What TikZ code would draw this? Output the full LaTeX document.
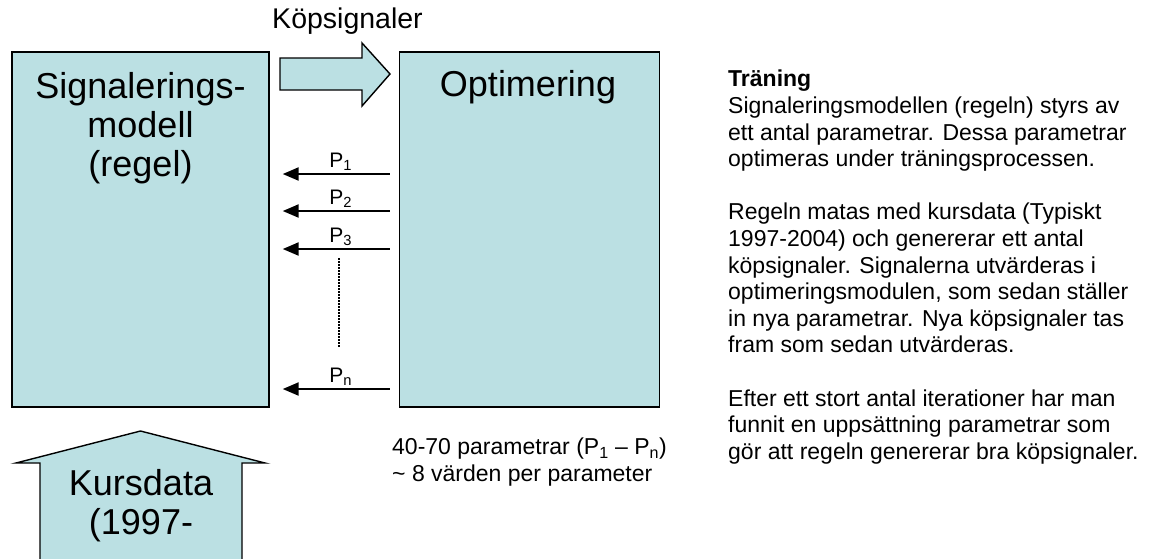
\documentclass[tikz,border=0pt]{standalone}
\usepackage{fontspec}
\setmainfont{Liberation Sans}
\usetikzlibrary{arrows.meta, positioning}
\definecolor{boxfill}{RGB}{187,224,227}

\begin{document}
\begin{tikzpicture}[x=1pt, y=-1pt,
        box/.style={draw, rectangle, fill=boxfill, line width=1.4pt, minimum height=355pt, inner sep=0pt},
        big/.style={font=\fontsize{36}{39}\selectfont, align=center, inner sep=0pt},
        note/.style={font=\fontsize{23}{26.6}\selectfont, align=left, inner sep=0pt},
        plabel/.style={font=\fontsize{21}{24}\selectfont, inner sep=2pt},
        blockarrow/.style={draw, fill=boxfill, line width=1.4pt, line join=miter},
        parrow/.style={-{Triangle[length=16pt, width=13pt]}, line width=2.2pt, shorten >=13pt, shorten <=9pt}
    ]
        \useasboundingbox (0,0) rectangle (1161,558);

        \node[box, minimum width=257pt] (signal) at (140.5,229.5) {};
        \node[box, minimum width=260pt, right=129pt of signal] (opt) {};
        \node[big, anchor=north] (signaltxt) at (140.5,72) {Signalerings-\\modell\\(regel)};
        \node[big, anchor=base] (opttxt) at (528,96) {Optimering};

        % signals to the optimiser
        \draw[blockarrow] (280,58) -- (362,58) -- (362,43) -- (390,74) -- (362,106) -- (362,90) -- (280,90) -- cycle;
        \node[font=\fontsize{28.5}{32}\selectfont, anchor=base, inner sep=0pt] (koptxt) at (347.5,28) {Köpsignaler};

        % parameters back to the model
        \foreach \y/\lab in {174/P\textsubscript{1}, 211/P\textsubscript{2}, 249/P\textsubscript{3}, 389/P\textsubscript{n}}
            \draw[parrow] (opt.west |- 0,\y) -- node[plabel, above, pos=.45] (p\y) {\lab} (signal.east |- 0,\y);
        \coordinate (dtop) at (339,258);
        \coordinate (dbot) at (339,347);
        \draw[line width=2pt, dash pattern=on 1.5pt off 1.5pt] (dtop) -- (dbot);

        % price data in
        \draw[blockarrow] (40,570) -- (40,463) -- (16,463) -- (140.5,431) -- (265,463) -- (242,463) -- (242,570) -- cycle;
        \node[big, anchor=north] (kurstxt) at (141,469) {Kursdata\\(1997-};

        \node[note, anchor=north west] (paramtxt) at (392,438) {40-70 parametrar (P\textsubscript{1} – P\textsubscript{n})\\\textasciitilde{} 8 värden per parameter};

        \node[note, anchor=north west] (training) at (728,70) {\textbf{Träning}\\
            Signaleringsmodellen (regeln) styrs av\\
            ett antal parametrar. Dessa parametrar\\
            optimeras under träningsprocessen.\\[26.6pt]
            Regeln matas med kursdata (Typiskt\\
            1997-2004) och genererar ett antal\\
            köpsignaler. Signalerna utvärderas i\\
            optimeringsmodulen, som sedan ställer\\
            in nya parametrar. Nya köpsignaler tas\\
            fram som sedan utvärderas.\\[26.6pt]
            Efter ett stort antal iterationer har man\\
            funnit en uppsättning parametrar som\\
            gör att regeln genererar bra köpsignaler.};
\end{tikzpicture}
\end{document}
